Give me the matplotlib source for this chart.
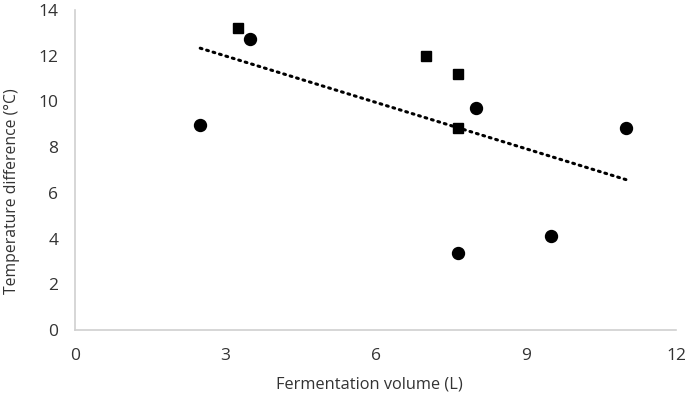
import numpy as np
import matplotlib
matplotlib.use('Agg')
import matplotlib.pyplot as plt

# circle series
circle_x = [2.5, 3.5, 8.0, 11.0, 9.5, 7.65]
circle_y = [8.95, 12.75, 9.7, 8.85, 4.1, 3.35]
# square series
square_x = [3.25, 7.0, 7.65, 7.65]
square_y = [13.2, 12.0, 11.2, 8.85]
# dotted trend line (endpoints)
trend_x = [2.5, 11.0]
trend_y = [12.33, 6.58]

x_ticks = [0, 3, 6, 9, 12]
y_ticks = [0, 2, 4, 6, 8, 10, 12, 14]

plt.rcParams['font.family'] = ['Open Sans', 'DejaVu Sans']

fig = plt.figure(figsize=(6.85, 4.0), dpi=100)
ax = fig.add_axes([75 / 685, 70 / 400, 601 / 685, 320 / 400])

ax.plot(trend_x, trend_y, color='black', linestyle=(0, (0.6, 1.6)),
        linewidth=2.2, dash_capstyle='round', zorder=2)
ax.plot(circle_x, circle_y, 'o', color='black', markersize=8.6, zorder=3)
ax.plot(square_x, square_y, 's', color='black', markersize=7.8, zorder=3)

ax.set_xlim(0, 12)
ax.set_ylim(0, 14)
ax.set_xticks(x_ticks)
ax.set_yticks(y_ticks)
ax.tick_params(length=0, labelsize=12.5, colors='#333333')
ax.tick_params(axis='y', pad=12)
ax.tick_params(axis='x', pad=13)

for s in ['top', 'right']:
    ax.spines[s].set_visible(False)
for s in ['left', 'bottom']:
    ax.spines[s].set_color('#D0D0D0')
    ax.spines[s].set_linewidth(1.2)

ax.set_xlabel('Fermentation volume (L)', fontsize=11.8, color='#333333')
ax.set_ylabel('Temperature difference (°C)', fontsize=11.3, color='#333333')
ax.xaxis.set_label_coords(0.49, -0.145)
ax.yaxis.set_label_coords(-0.092, 0.435)

fig.savefig('out.png', dpi=100)
